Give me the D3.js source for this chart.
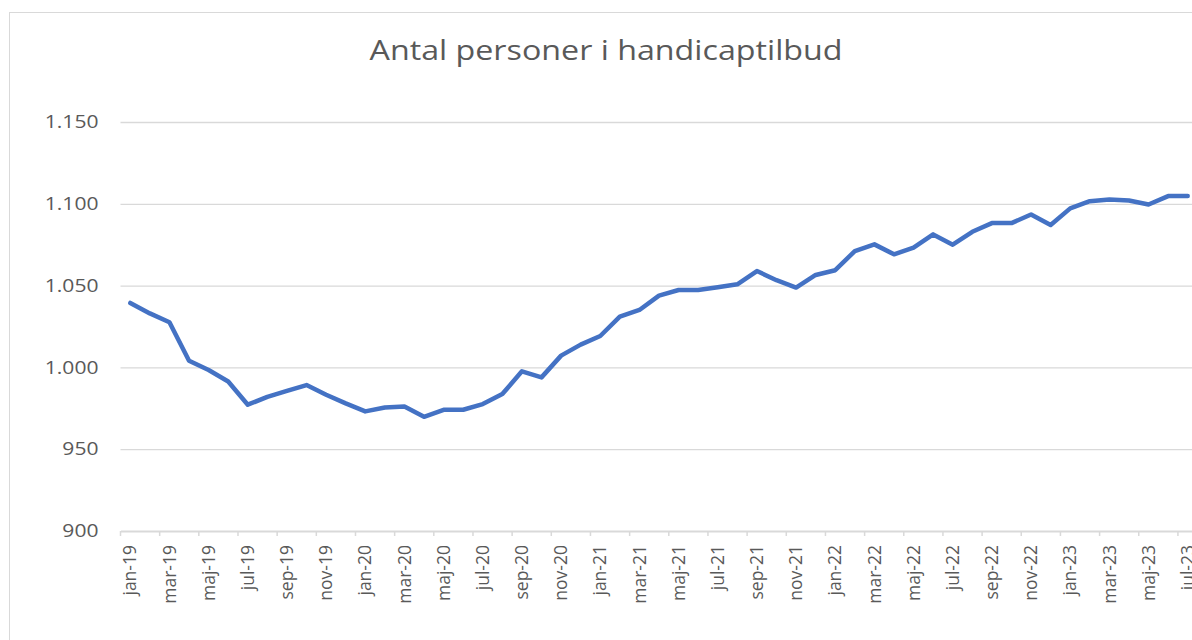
<!DOCTYPE html>
<html>
<head>
<meta charset="utf-8">
<script src="https://cdn.jsdelivr.net/npm/d3@7"></script>
<style>
  html, body { margin: 0; padding: 0; background: #fff; overflow: hidden; }
  svg { display: block; }
</style>
</head>
<body>
<svg id="chart" width="1192" height="640"></svg>
<script>
const title = "Antal personer i handicaptilbud";
const months = [
  "jan-19","feb-19","mar-19","apr-19","maj-19","jun-19","jul-19","aug-19","sep-19","okt-19","nov-19","dec-19",
  "jan-20","feb-20","mar-20","apr-20","maj-20","jun-20","jul-20","aug-20","sep-20","okt-20","nov-20","dec-20",
  "jan-21","feb-21","mar-21","apr-21","maj-21","jun-21","jul-21","aug-21","sep-21","okt-21","nov-21","dec-21",
  "jan-22","feb-22","mar-22","apr-22","maj-22","jun-22","jul-22","aug-22","sep-22","okt-22","nov-22","dec-22",
  "jan-23","feb-23","mar-23","apr-23","maj-23","jun-23","jul-23"
];
const persons = [
  1039.4,1033,1027.6,1004.1,998.4,991.4,977.2,982,985.7,989.2,983.3,978,
  973.1,975.5,976.1,969.8,974.1,974.1,977.6,983.7,997.6,993.9,1007.2,1013.9,
  1019.2,1031,1035.1,1043.9,1047.3,1047.3,1049,1050.8,1058.9,1053.3,1048.8,1056.5,
  1059.4,1071.1,1075.2,1069.1,1073.2,1081.3,1075,1082.9,1088.2,1088.2,1093.5,1087,
  1097.2,1101.6,1102.6,1102,1099.6,1104.7,1104.7
];
const yTicks = [900, 950, 1000, 1050, 1100, 1150];
const labelledMonths = months.filter((d, i) => i % 2 === 0);

const svg = d3.select("#chart");
const W = 1192, H = 640;
const plot = { left: 120.5, right: 1197.5, top: 122, bottom: 531 };
const font = "'Open Sans', 'Noto Sans', sans-serif";
const textColor = "#595959";
const gridColor = "#d9d9d9";

const da = d3.formatLocale({ decimal: ",", thousands: ".", grouping: [3], currency: ["", " kr."] });
const fmt = da.format(",d");

// chart frame
svg.append("rect")
  .attr("x", 9.5).attr("y", 12.5)
  .attr("width", W + 20).attr("height", H + 20)
  .attr("fill", "#fff").attr("stroke", gridColor).attr("stroke-width", 1);

const x = d3.scaleBand().domain(months).range([plot.left, plot.right]).padding(0);
const y = d3.scaleLinear().domain([900, 1150]).range([plot.bottom, plot.top]);

// title
svg.append("text")
  .attr("x", 606).attr("y", 60)
  .attr("text-anchor", "middle")
  .attr("font-family", font)
  .attr("font-size", 27)
  .attr("fill", textColor)
  .attr("textLength", 473)
  .attr("lengthAdjust", "spacingAndGlyphs")
  .text(title);

// gridlines + y labels
const yAxis = svg.append("g")
  .attr("transform", `translate(${plot.left},0)`)
  .call(d3.axisLeft(y).tickValues(yTicks).tickFormat(fmt).tickSize(0).tickPadding(22));
yAxis.select(".domain").remove();
const yText = yAxis.selectAll("text")
  .attr("font-family", font).attr("font-size", 18).attr("fill", textColor);
// Calibri-like wider digits: stretch horizontally a little
yText.each(function() {
  const len = this.getComputedTextLength();
  d3.select(this).attr("textLength", len * 1.17).attr("lengthAdjust", "spacingAndGlyphs");
});
yAxis.selectAll(".tick").filter(d => d !== 900).append("line")
  .attr("x1", 0).attr("x2", plot.right - plot.left)
  .attr("stroke", gridColor).attr("stroke-width", 1.3);

// x axis
const xAxis = svg.append("g")
  .attr("transform", `translate(0,${plot.bottom})`)
  .call(d3.axisBottom(x).tickValues(labelledMonths).tickSize(0).tickPadding(12));
xAxis.select(".domain").attr("stroke", gridColor).attr("stroke-width", 1.8);
xAxis.selectAll(".tick text")
  .attr("font-family", font).attr("font-size", 17.5).attr("fill", textColor)
  .attr("transform", "rotate(-90)")
  .attr("text-anchor", "end")
  .attr("dy", "0.35em")
  .attr("x", -14).attr("y", 0);
xAxis.selectAll(".tickmark")
  .data(labelledMonths).enter().append("line")
  .attr("x1", d => x(d)).attr("x2", d => x(d))
  .attr("y1", 0).attr("y2", 5)
  .attr("stroke", gridColor).attr("stroke-width", 1.5);

// line
const line = d3.line()
  .x((d, i) => x(months[i]) + x.bandwidth() / 2)
  .y(d => y(d));
svg.append("path")
  .datum(persons)
  .attr("d", line)
  .attr("fill", "none")
  .attr("stroke", "#4472C4")
  .attr("stroke-width", 4.5)
  .attr("stroke-linejoin", "round")
  .attr("stroke-linecap", "round");
</script>
</body>
</html>
